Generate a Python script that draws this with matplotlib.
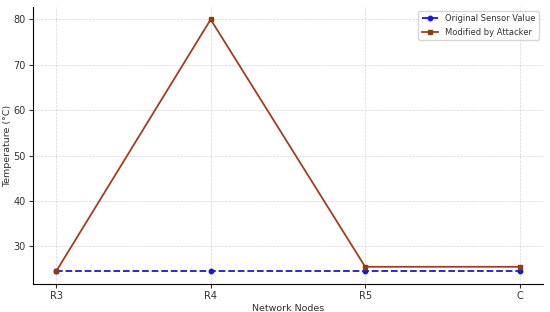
import matplotlib
matplotlib.use("Agg")
import matplotlib.pyplot as plt

nodes = ["R3", "R4", "R5", "C"]
original = [24.5, 24.5, 24.5, 24.5]
modified = [24.5, 80.0, 25.5, 25.5]

fig, ax = plt.subplots(figsize=(5.5, 3.12), dpi=100)
x = range(len(nodes))
ax.plot(x, original, color="#1a1acc", linestyle="--", marker="o", markersize=3.2,
        linewidth=1.3, label="Original Sensor Value")
ax.plot(x, modified, color="#a33d22", linestyle="-", marker="s", markersize=3.2,
        markerfacecolor="#8b4010", markeredgecolor="#8b4010",
        linewidth=1.3, label="Modified by Attacker")

ax.set_xticks(list(x))
ax.set_xticklabels(nodes)
ax.set_xlabel("Network Nodes", fontsize=6.8, color="#333333", labelpad=2)
ax.set_ylabel("Temperature (°C)", fontsize=6.8, color="#333333", labelpad=1)
ax.tick_params(labelsize=7, color="#333333", labelcolor="#333333", length=3, pad=2)
ax.grid(True, linestyle="--", linewidth=0.5, color="#d4d4d4")
ax.spines["top"].set_visible(False)
ax.spines["right"].set_visible(False)
ax.legend(fontsize=6, loc="upper right", labelcolor="#333333")

plt.subplots_adjust(left=0.06, right=0.987, top=0.978, bottom=0.09)
plt.savefig("out.png", dpi=100)
